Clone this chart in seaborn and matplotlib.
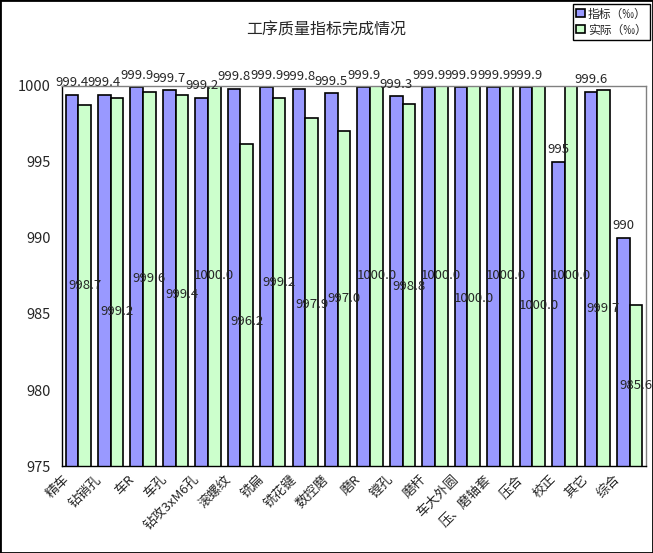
import numpy as np
import pandas as pd
import matplotlib
matplotlib.use("Agg")
import matplotlib.pyplot as plt
import matplotlib.transforms as mtransforms
from matplotlib.patches import Rectangle
import seaborn as sns

# datos del grafico
procesos = ["精车", "钻销孔", "车R", "车孔", "钻攻3xM6孔", "滚螺纹", "铣扁", "铣花键",
            "数控磨", "磨R", "镗孔", "磨杆", "车大外圆", "压、磨轴套", "压合", "校正",
            "其它", "综合"]
indicador = [999.4, 999.4, 999.9, 999.7, 999.2, 999.8, 999.9, 999.8, 999.5,
             999.9, 999.3, 999.9, 999.9, 999.9, 999.9, 995, 999.6, 990]
real = [998.7, 999.2, 999.6, 999.4, 1000.0, 996.2, 999.2, 997.9, 997.0,
        1000.0, 998.8, 1000.0, 1000.0, 1000.0, 1000.0, 1000.0, 999.7, 985.6]
series = ["指标（‰）", "实际（‰）"]
y_ticks = [975, 980, 985, 990, 995, 1000]

# desplazamiento (puntos) de las etiquetas "real" para que no se monten
desp_real = [0, -21, 0, -10, 0, -12, 0, -9, 0, 0, -1, 0, -16, 0, -21, 0, -22, 0]

df = pd.DataFrame({
    "proceso": procesos * 2,
    "serie": [series[0]] * len(procesos) + [series[1]] * len(procesos),
    "valor": indicador + real,
})

sns.set_style("white")
plt.rcParams['font.family'] = ['Noto Sans CJK SC', 'DejaVu Sans']

fig = plt.figure(figsize=(6.53, 5.53), dpi=100)
ax = fig.add_axes([0.095, 0.157, 0.894, 0.688])

sns.barplot(data=df, x="proceso", y="valor", hue="serie", order=procesos,
            hue_order=series, palette=["#9999FF", "#CCFFCC"], edgecolor="black",
            linewidth=1.2, width=0.78, saturation=1, ax=ax, legend=True)

ax.set_ylim(975, 1000)
ax.set_yticks(y_ticks)
ax.set_yticklabels([str(t) for t in y_ticks], fontsize=10.5)
ax.set_xlabel("")
ax.set_ylabel("")

# etiquetas de valores
ymin = ax.get_ylim()[0]
for i, bar in enumerate(ax.containers[0]):
    v = indicador[i]
    ax.annotate(f"{v:g}", (bar.get_x() + bar.get_width() / 2, v),
                xytext=(0, 4), textcoords="offset points", ha="center",
                va="bottom", fontsize=9.5, annotation_clip=False)
for i, bar in enumerate(ax.containers[1]):
    v = real[i]
    ax.annotate(f"{v:.1f}", (bar.get_x() + bar.get_width() / 2, (ymin + v) / 2),
                xytext=(0, desp_real[i]), textcoords="offset points", ha="center",
                va="center", fontsize=9.5)

# ejes
for lado in ["top", "right"]:
    ax.spines[lado].set_color("#808080")
for lado in ["left", "bottom"]:
    ax.spines[lado].set_color("black")
for sp in ax.spines.values():
    sp.set_linewidth(1)

ax.tick_params(axis="y", direction="out", length=4, color="black", pad=4)
ax.tick_params(axis="x", which="major", length=0, pad=2)
ax.set_xticks(np.arange(len(procesos) + 1) - 0.5, minor=True)
ax.tick_params(axis="x", which="minor", direction="in", length=3, color="black")
ax.set_xlim(-0.5, len(procesos) - 0.5)

offset = mtransforms.ScaledTranslation(-8 / 72, -6 / 72, fig.dpi_scale_trans)
for lab in ax.get_xticklabels():
    lab.set_rotation(45)
    lab.set_ha("right")
    lab.set_va("center")
    lab.set_rotation_mode("anchor")
    lab.set_fontsize(9.5)
    lab.set_transform(lab.get_transform() + offset)

# leyenda
handles, labels = ax.get_legend_handles_labels()
ax.get_legend().remove()
leg = fig.legend(handles, labels, loc="upper right", bbox_to_anchor=(0.996, 0.993),
                 fontsize=8.5, frameon=True, fancybox=False, framealpha=1,
                 edgecolor="black", handlelength=0.7, handleheight=0.7,
                 handletextpad=0.3, borderpad=0.3, labelspacing=0.25,
                 borderaxespad=0)
leg.get_frame().set_linewidth(1)

fig.text(0.5, 0.946, "工序质量指标完成情况", ha="center", va="center", fontsize=11.5)

fig.patches.append(Rectangle((0, 0), 1, 1, transform=fig.transFigure, fill=False,
                             edgecolor="black", linewidth=2))

fig.savefig("out.png", dpi=100)
